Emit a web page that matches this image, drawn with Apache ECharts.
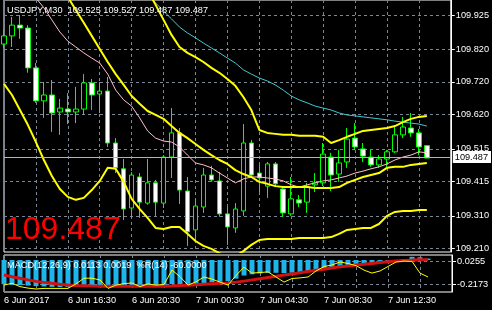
<!DOCTYPE html>
<html><head><meta charset="utf-8">
<script src="https://cdn.jsdelivr.net/npm/echarts@6/dist/echarts.min.js"></script>
<style>html,body{margin:0;padding:0;background:#000;}#c{width:492px;height:310px;}</style>
</head><body><div id="c"></div>
<script>
const symbolName = 'USDJPY';
const timeframe = 'M30';
const timeLabels = ['6 Jun 2017','6 Jun 16:30','6 Jun 20:30','7 Jun 00:30','7 Jun 04:30','7 Jun 08:30','7 Jun 12:30'];
const priceTicks = [109.210, 109.310, 109.415, 109.515, 109.620, 109.720, 109.820, 109.925];
const subTicks = [0.0255, -0.2173];

// [open, close, low, high]
const candles = [
[109.836,109.861,109.824,109.882],[109.861,109.894,109.827,109.919],[109.894,109.885,109.852,109.925],
[109.885,109.763,109.748,109.894],[109.763,109.662,109.656,109.778],[109.662,109.680,109.610,109.720],
[109.680,109.625,109.567,109.726],[109.628,109.640,109.558,109.668],[109.637,109.628,109.591,109.686],
[109.628,109.637,109.594,109.705],[109.637,109.717,109.619,109.744],[109.717,109.680,109.634,109.729],
[109.683,109.692,109.625,109.720],[109.692,109.533,109.521,109.735],[109.533,109.457,109.441,109.548],
[109.454,109.331,109.297,109.484],[109.334,109.435,109.304,109.444],[109.429,109.352,109.304,109.441],
[109.349,109.411,109.344,109.484],[109.411,109.352,109.310,109.420],[109.349,109.490,109.334,109.496],
[109.490,109.564,109.426,109.640],[109.564,109.389,109.346,109.579],[109.386,109.261,109.218,109.429],
[109.267,109.340,109.233,109.362],[109.337,109.435,109.319,109.457],[109.435,109.420,109.414,109.463],
[109.417,109.316,109.307,109.444],[109.316,109.276,109.221,109.337],[109.273,109.331,109.258,109.349],
[109.325,109.533,109.310,109.591],[109.533,109.435,109.426,109.542],[109.441,109.426,109.383,109.466],
[109.401,109.469,109.365,109.475],[109.469,109.408,109.398,109.475],[109.392,109.319,109.307,109.398],
[109.316,109.362,109.310,109.429],[109.359,109.349,109.337,109.374],[109.352,109.401,109.319,109.411],
[109.405,109.411,109.383,109.441],[109.411,109.499,109.401,109.533],[109.490,109.435,109.386,109.503],
[109.438,109.472,109.414,109.512],[109.475,109.545,109.457,109.579],[109.548,109.521,109.512,109.594],
[109.515,109.493,109.475,109.533],[109.490,109.466,109.460,109.512],[109.466,109.484,109.457,109.496],
[109.484,109.506,109.460,109.512],[109.506,109.558,109.503,109.582],[109.558,109.582,109.548,109.613],
[109.579,109.564,109.552,109.625],[109.564,109.521,109.496,109.576],[109.525,109.487,109.487,109.527]
];

const _ = null;
const bbUpper = [_,_,_,_,_,_,_,_,_,_,_,_,_,_,_,_,_,_,
110.002,109.956,109.910,109.864,109.827,109.809,109.796,109.781,109.763,109.748,109.729,109.708,109.674,109.634,
109.573,109.564,109.561,109.558,109.558,109.555,109.555,109.555,109.552,109.533,109.542,109.552,109.561,109.570,
109.573,109.576,109.579,109.585,109.597,109.607,109.613,109.616];
const bbMiddle = [_,_,_,_,_,_,_,
110.017,109.980,109.940,109.901,109.861,109.821,109.781,109.744,109.711,109.677,109.653,109.631,109.619,109.607,
109.585,109.564,109.548,109.530,109.512,109.496,109.481,109.469,109.450,109.438,109.429,109.414,109.408,109.401,
109.398,109.398,109.398,109.398,109.395,109.395,109.395,109.398,109.411,109.420,109.429,109.435,109.441,109.457,
109.460,109.460,109.466,109.469,109.472];
const bbLower = [
109.714,109.680,109.634,109.588,109.536,109.481,109.432,109.392,109.368,109.359,
109.365,109.389,109.417,109.457,109.454,109.414,109.362,109.331,109.304,109.273,
109.270,109.276,109.276,109.255,109.233,109.218,109.209,109.196,109.184,109.187,
109.202,109.221,109.236,109.239,109.239,109.239,109.239,109.242,109.242,109.242,
109.242,109.245,109.255,109.267,109.270,109.273,109.273,109.285,109.310,109.322,
109.325,109.325,109.328,109.328];
const maPink = [_,_,_,_,
109.977,109.947,109.910,109.873,109.845,109.827,109.809,109.793,109.778,109.744,
109.695,109.665,109.646,109.610,109.570,109.548,109.539,109.536,109.521,109.496,
109.472,109.466,109.457,109.441,109.426,109.411,109.423,109.429,109.429,109.426,
109.423,109.417,109.405,109.398,109.405,109.411,109.417,109.420,109.426,109.432,
109.441,109.447,109.454,109.460,109.469,109.481,109.490,109.496,109.506,109.503];
const maCyan = [_,_,_,_,_,_,_,_,_,_,_,_,_,_,_,_,_,_,
109.986,109.962,109.937,109.913,109.888,109.870,109.855,109.839,109.824,109.809,
109.793,109.778,109.757,109.744,109.732,109.723,109.711,109.695,109.677,109.665,
109.656,109.646,109.640,109.634,109.625,109.619,109.616,109.613,109.610,109.607,
109.604,109.600,109.597,109.594,109.591,109.585];

const macdMain = [
-0.195,-0.200,-0.202,-0.206,-0.210,-0.213,-0.216,-0.217,-0.2173,-0.215,
-0.211,-0.210,-0.209,-0.211,-0.214,-0.217,-0.216,-0.215,-0.213,-0.212,
-0.205,-0.194,-0.193,-0.198,-0.195,-0.186,-0.178,-0.176,-0.170,-0.150,
-0.125,-0.115,-0.108,-0.104,-0.103,-0.105,-0.102,-0.098,-0.092,-0.083,
-0.073,-0.068,-0.060,-0.049,-0.040,-0.035,-0.030,-0.024,-0.017,-0.006,
0.008,0.0255,0.022,0.0113];
const macdSignal = [
-0.121,-0.134,-0.147,-0.160,-0.172,-0.180,-0.187,-0.195,-0.202,-0.206,
-0.208,-0.210,-0.211,-0.212,-0.212,-0.212,-0.212,-0.212,-0.212,-0.212,
-0.211,-0.209,-0.206,-0.204,-0.200,-0.196,-0.192,-0.188,-0.184,-0.178,
-0.170,-0.160,-0.150,-0.140,-0.131,-0.121,-0.112,-0.102,-0.093,-0.083,
-0.074,-0.064,-0.055,-0.048,-0.041,-0.035,-0.028,-0.021,-0.015,-0.009,
-0.005,-0.001,0.001,0.0019];
const williamsR = [
-87,-81,-92,-97,-100,-98,-98,-98,-98,-83,
-64,-64,-70,-98,-87,-82,-80,-92,-83,-87,
-85,-37,-59,-87,-76,-60,-67,-77,-87,-55,
-27,-47,-45,-43,-60,-77,-65,-63,-60,-40,
-25,-20,-10,-15,-22,-37,-47,-40,-25,-10,
-7,-8,-47,-60];

// ---- layout constants ----
const Y_MIN = 109.1993, Y_MAX = 109.9709;
const MACD_MIN = -0.2574, MACD_MAX = 0.0402;
const WPR_MIN = -110, WPR_MAX = 13.33;
const SUBLAB_MIN = -0.3001, SUBLAB_MAX = 0.0975;
const FONT = '"Liberation Sans", Arial, sans-serif';
const FS = 9.2;
const NCAT = 57;

const cats = [];
for (let i = 0; i < NCAT; i++) {
  cats.push(i % 8 === 0 && timeLabels[i / 8] ? timeLabels[i / 8] : '');
}
const last = candles[candles.length - 1];
const lastClose = last[1];
const n = macdMain.length - 1;

const gridLine = { show: true, lineStyle: { color: '#7b8794', type: [3, 3], width: 1 } };

const chart = echarts.init(document.getElementById('c'), null, { renderer: 'canvas' });
chart.setOption({
  backgroundColor: '#000',
  animation: false,
  grid: [
    { left: 4, right: 40, top: 0, height: 252, show: true, borderColor: '#fff', borderWidth: 1 },
    { left: 4, right: 40, top: 255, height: 37, show: true, borderColor: '#fff', borderWidth: 1 }
  ],
  xAxis: [
    { type: 'category', gridIndex: 0, data: cats, boundaryGap: false,
      axisLine: { show: false }, axisTick: { show: false }, axisLabel: { show: false },
      splitLine: Object.assign({ interval: 3 }, gridLine) },
    { type: 'category', gridIndex: 1, data: cats, boundaryGap: false,
      axisLine: { show: false },
      axisTick: { show: true, interval: 7, length: 3, lineStyle: { color: '#fff' } },
      axisLabel: { show: true, interval: 7, align: 'left', margin: 4, color: '#fff', fontSize: FS, fontFamily: FONT },
      splitLine: Object.assign({ interval: 3 }, gridLine) }
  ],
  yAxis: [
    { type: 'value', gridIndex: 0, position: 'right', min: Y_MIN, max: Y_MAX,
      axisLine: { show: true, lineStyle: { color: '#fff' } },
      axisTick: { show: true, length: 4, customValues: priceTicks, lineStyle: { color: '#fff' } },
      axisLabel: { customValues: priceTicks, color: '#fff', margin: 5, fontSize: FS, fontFamily: FONT,
        formatter: v => Number(v).toFixed(3) },
      splitLine: gridLine },
    { type: 'value', gridIndex: 1, position: 'right', min: MACD_MIN, max: MACD_MAX, show: false },
    { type: 'value', gridIndex: 1, position: 'right', min: WPR_MIN, max: WPR_MAX, show: false },
    { type: 'value', gridIndex: 1, position: 'right', min: SUBLAB_MIN, max: SUBLAB_MAX,
      axisLine: { show: true, lineStyle: { color: '#fff' } },
      axisTick: { show: true, length: 4, customValues: subTicks, lineStyle: { color: '#fff' } },
      axisLabel: { customValues: subTicks, color: '#fff', margin: 5, fontSize: FS, fontFamily: FONT,
        formatter: v => Number(v).toFixed(4) },
      splitLine: gridLine }
  ],
  series: [
    { type: 'candlestick', xAxisIndex: 0, yAxisIndex: 0, data: candles, barWidth: 5, z: 2,
      itemStyle: { color: '#000', color0: '#fff', borderColor: '#00ff00', borderColor0: '#00ff00',
        borderColorDoji: '#00ff00', borderWidth: 1 },
      markLine: { symbol: ['none', 'none'], silent: true, animation: false,
        data: [{ yAxis: lastClose }],
        lineStyle: { color: '#b4b4b4', type: 'solid', width: 1 },
        label: { show: true, position: 'end', distance: 2, formatter: lastClose.toFixed(3),
          backgroundColor: '#fff', color: '#000', fontSize: FS, fontFamily: FONT, padding: [2, 3, 1, 2] } } },
    { type: 'line', xAxisIndex: 0, yAxisIndex: 0, data: maCyan, showSymbol: false, z: 3,
      lineStyle: { color: '#40c8d0', width: 1 } },
    { type: 'line', xAxisIndex: 0, yAxisIndex: 0, data: maPink, showSymbol: false, z: 3,
      lineStyle: { color: '#ffc0cb', width: 1 } },
    { type: 'line', xAxisIndex: 0, yAxisIndex: 0, data: bbUpper, showSymbol: false, z: 4,
      lineStyle: { color: '#ffff00', width: 2 } },
    { type: 'line', xAxisIndex: 0, yAxisIndex: 0, data: bbMiddle, showSymbol: false, z: 4,
      lineStyle: { color: '#ffff00', width: 2 } },
    { type: 'line', xAxisIndex: 0, yAxisIndex: 0, data: bbLower, showSymbol: false, z: 4,
      lineStyle: { color: '#ffff00', width: 2 } },
    { type: 'bar', xAxisIndex: 1, yAxisIndex: 1, data: macdMain, barWidth: 5, z: 2,
      itemStyle: { color: '#1eb4ec' } },
    { type: 'line', xAxisIndex: 1, yAxisIndex: 1, data: macdSignal, showSymbol: false, z: 3,
      lineStyle: { color: '#d41010', width: 3 } },
    { type: 'line', xAxisIndex: 1, yAxisIndex: 2, data: williamsR, showSymbol: false, z: 4,
      lineStyle: { color: '#ffff00', width: 1 } }
  ],
  graphic: [
    { type: 'text', x: 7, y: 10.5, z: 100,
      style: { text: symbolName + ',' + timeframe + '  ' + last[0].toFixed(3) + ' ' + last[3].toFixed(3) + ' ' +
        last[2].toFixed(3) + ' ' + last[1].toFixed(3),
        fill: '#fff', font: FS + 'px ' + FONT, verticalAlign: 'middle' } },
    { type: 'text', x: 7, y: 265, z: 100,
      style: { text: 'MACD(12,26,9) ' + macdMain[n].toFixed(4) + ' ' + macdSignal[n].toFixed(4) + '  %R(14) ' +
        williamsR[n].toFixed(4), fill: '#fff', font: FS + 'px ' + FONT, verticalAlign: 'middle' } },
    { type: 'text', x: 5, y: 230, z: 100,
      style: { text: lastClose.toFixed(3), fill: '#ff0000', font: '32px ' + FONT, verticalAlign: 'middle' } }
  ]
});
</script>
</body></html>
